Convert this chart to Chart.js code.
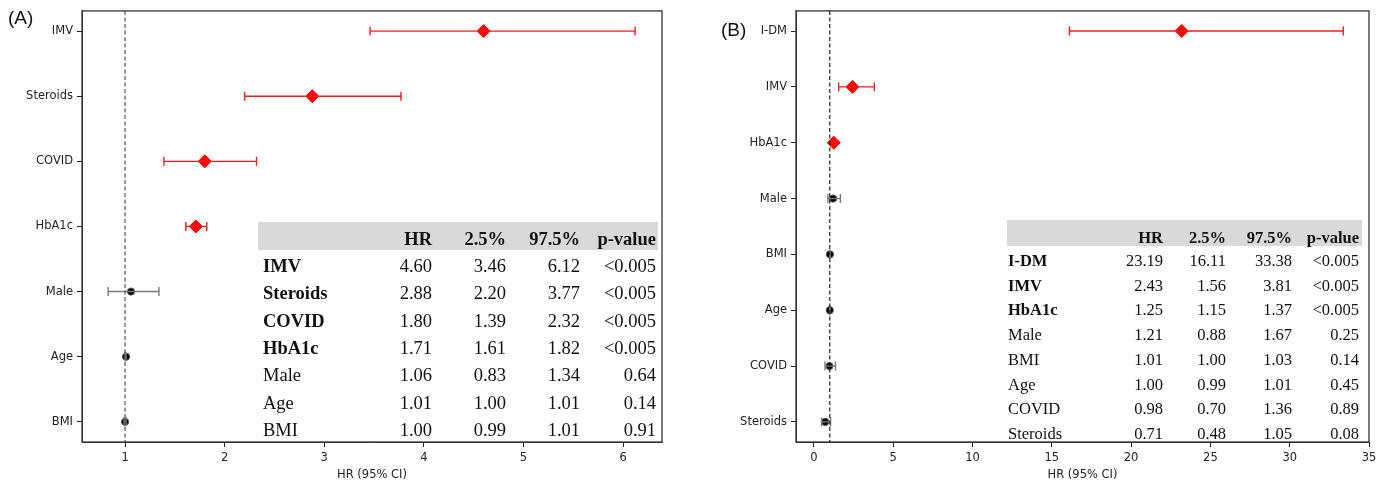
<!DOCTYPE html>
<html>
<head>
<meta charset="utf-8">
<script src="https://cdn.jsdelivr.net/npm/chart.js@4.4.1/dist/chart.umd.min.js"></script>
<style>
  body { margin: 0; background: #fff; width: 1385px; height: 483px; position: relative; overflow: hidden; }
  canvas { position: absolute; top: 0; }
  #chartA { left: 0; }
  #chartB { left: 700px; }
  .tag { position: absolute; font-family: "Liberation Sans", Arial, sans-serif; font-size: 19px; color: #111; line-height: 22px; }
  .tbl { position: absolute; font-family: "Liberation Serif", "Times New Roman", serif; color: #111; }
  .tbl .head { position: absolute; left: 0; top: 0; background: #d9d9d9; }
  .tbl .cell { position: absolute; white-space: nowrap; }
</style>
</head>
<body>
<canvas id="chartA" width="680" height="483"></canvas>
<canvas id="chartB" width="685" height="483"></canvas>
<div class="tag" style="left:8px;top:7px">(A)</div>
<div class="tag" style="left:721px;top:19px">(B)</div>

<script>
// Panel A data
const labelsA = ['IMV', 'Steroids', 'COVID', 'HbA1c', 'Male', 'Age', 'BMI'];
const hrA     = [4.60, 2.88, 1.80, 1.71, 1.06, 1.01, 1.00];
const loA     = [3.46, 2.20, 1.39, 1.61, 0.83, 1.00, 0.99];
const hiA     = [6.12, 3.77, 2.32, 1.82, 1.34, 1.01, 1.01];
const pA      = ['<0.005', '<0.005', '<0.005', '<0.005', '0.64', '0.14', '0.91'];
const sigA    = [true, true, true, true, false, false, false];
const xTicksA = [1, 2, 3, 4, 5, 6];

// Panel B data
const labelsB = ['I-DM', 'IMV', 'HbA1c', 'Male', 'BMI', 'Age', 'COVID', 'Steroids'];
const hrB     = [23.19, 2.43, 1.25, 1.21, 1.01, 1.00, 0.98, 0.71];
const loB     = [16.11, 1.56, 1.15, 0.88, 1.00, 0.99, 0.70, 0.48];
const hiB     = [33.38, 3.81, 1.37, 1.67, 1.03, 1.01, 1.36, 1.05];
const pB      = ['<0.005', '<0.005', '<0.005', '0.25', '0.14', '0.45', '0.89', '0.08'];
const sigB    = [true, true, true, false, false, false, false, false];
const xTicksB = [0, 5, 10, 15, 20, 25, 30, 35];

const tableHeader = ['', 'HR', '2.5%', '97.5%', 'p-value'];

const RED = '#ee1d1d';
const GREY = '#7a7a7a';

// draws the box round the plot area
const framePlugin = {
    id: 'frame',
    afterDraw(chart) {
        const a = chart.chartArea;
        const ctx = chart.ctx;
        ctx.save();
        ctx.strokeStyle = '#333';
        ctx.lineWidth = 1.3;
        ctx.strokeRect(a.left, a.top, a.right - a.left, a.bottom - a.top);
        ctx.restore();
    }
};

function forestChart(id, opt) {
    const datasets = [];

    // reference line at HR = 1
    datasets.push({
        data: [{ x: 1, y: opt.yMin }, { x: 1, y: opt.yMax }],
        showLine: true,
        borderColor: opt.refColor,
        borderWidth: 1.2,
        borderDash: [4, 2.5],
        pointRadius: 0
    });

    // confidence intervals with caps
    opt.labels.forEach((lab, i) => {
        const c = opt.sig[i] ? RED : GREY;
        datasets.push({
            data: [{ x: opt.lo[i], y: i }, { x: opt.hi[i], y: i }],
            showLine: true,
            borderColor: c,
            borderWidth: 1.4,
            pointStyle: 'line',
            rotation: 90,
            pointRadius: 4.5,
            pointBorderColor: c,
            pointBorderWidth: 1.4
        });
    });

    // hazard ratio points
    datasets.push({
        data: opt.hr.map((v, i) => ({ x: v, y: i })),
        showLine: false,
        pointStyle: opt.sig.map(s => s ? 'rectRot' : 'circle'),
        pointRadius: opt.sig.map(s => s ? 6.5 : 3.6),
        backgroundColor: opt.sig.map(s => s ? 'red' : '#000'),
        borderColor: opt.sig.map(s => s ? 'red' : '#555'),
        borderWidth: 1
    });

    const tickFont = { family: 'DejaVu Sans', size: 11.5 };

    return new Chart(document.getElementById(id), {
        type: 'scatter',
        data: { datasets },
        plugins: [framePlugin],
        options: {
            responsive: false,
            animation: false,
            events: [],
            layout: { autoPadding: false, padding: { top: 10, right: opt.padRight, left: 0, bottom: 0 } },
            plugins: { legend: { display: false }, tooltip: { enabled: false } },
            scales: {
                x: {
                    type: 'linear',
                    min: opt.xMin,
                    max: opt.xMax,
                    afterBuildTicks: s => { s.ticks = opt.xTicks.map(v => ({ value: v })); },
                    afterFit: s => { s.height = 41; },
                    ticks: { font: tickFont, color: '#222', padding: 4 },
                    grid: { drawOnChartArea: false, drawTicks: true, tickLength: 5, color: '#222' },
                    border: { display: true, color: '#333' },
                    title: { display: true, text: 'HR (95% CI)', font: tickFont, color: '#222', padding: { top: 0, bottom: 1 } }
                },
                y: {
                    type: 'linear',
                    reverse: true,
                    min: opt.yMin,
                    max: opt.yMax,
                    afterBuildTicks: s => { s.ticks = opt.labels.map((l, i) => ({ value: i })); },
                    afterFit: s => { s.width = opt.yWidth; },
                    ticks: { font: tickFont, color: '#222', padding: 4, callback: v => opt.labels[v] },
                    grid: { drawOnChartArea: false, drawTicks: true, tickLength: 5, color: '#222' },
                    border: { display: true, color: '#333' }
                }
            }
        }
    });
}

// table overlay built from the data arrays
function buildTable(opt) {
    const box = document.createElement('div');
    box.className = 'tbl';
    box.style.left = opt.left + 'px';
    box.style.top = opt.top + 'px';
    box.style.width = opt.width + 'px';
    box.style.fontSize = opt.fontSize + 'px';

    const head = document.createElement('div');
    head.className = 'head';
    head.style.width = opt.width + 'px';
    head.style.height = opt.headH + 'px';
    box.appendChild(head);

    function cell(text, col, centerY, bold) {
        const d = document.createElement('div');
        d.className = 'cell';
        d.textContent = text;
        d.style.height = '24px';
        d.style.lineHeight = '24px';
        d.style.top = (centerY - 12) + 'px';
        if (bold) d.style.fontWeight = 'bold';
        if (col === 0) {
            d.style.left = opt.nameLeft + 'px';
        } else {
            d.style.left = (opt.colRight[col - 1] - 100) + 'px';
            d.style.width = '100px';
            d.style.textAlign = 'right';
        }
        box.appendChild(d);
    }

    tableHeader.forEach((h, c) => { if (h) cell(h, c, opt.headTextY, true); });
    opt.labels.forEach((lab, i) => {
        const y = opt.firstRowY + i * opt.rowH;
        cell(lab, 0, y, opt.sig[i]);
        cell(opt.hr[i].toFixed(2), 1, y, false);
        cell(opt.lo[i].toFixed(2), 2, y, false);
        cell(opt.hi[i].toFixed(2), 3, y, false);
        cell(opt.p[i], 4, y, false);
    });
    document.body.appendChild(box);
}

forestChart('chartA', {
    labels: labelsA, hr: hrA, lo: loA, hi: hiA, sig: sigA, xTicks: xTicksA,
    xMin: 0.568, xMax: 6.39, yMin: -0.31, yMax: labelsA.length - 1 + 0.31,
    yWidth: 82, padRight: 18, refColor: '#555'
});

forestChart('chartB', {
    labels: labelsB, hr: hrB, lo: loB, hi: hiB, sig: sigB, xTicks: xTicksB,
    xMin: -1.13, xMax: 35.0, yMin: -0.36, yMax: labelsB.length - 1 + 0.36,
    yWidth: 96, padRight: 16, refColor: '#222'
});

buildTable({
    left: 258, top: 222, width: 400, headH: 28, headTextY: 17, fontSize: 18.5,
    nameLeft: 5, colRight: [174, 248, 322, 398], firstRowY: 44, rowH: 27.3,
    labels: labelsA, hr: hrA, lo: loA, hi: hiA, p: pA, sig: sigA
});

buildTable({
    left: 1007, top: 220, width: 355, headH: 26, headTextY: 18, fontSize: 16.5,
    nameLeft: 1, colRight: [156, 219, 285, 352], firstRowY: 41, rowH: 24.7,
    labels: labelsB, hr: hrB, lo: loB, hi: hiB, p: pB, sig: sigB
});
</script>
</body>
</html>
